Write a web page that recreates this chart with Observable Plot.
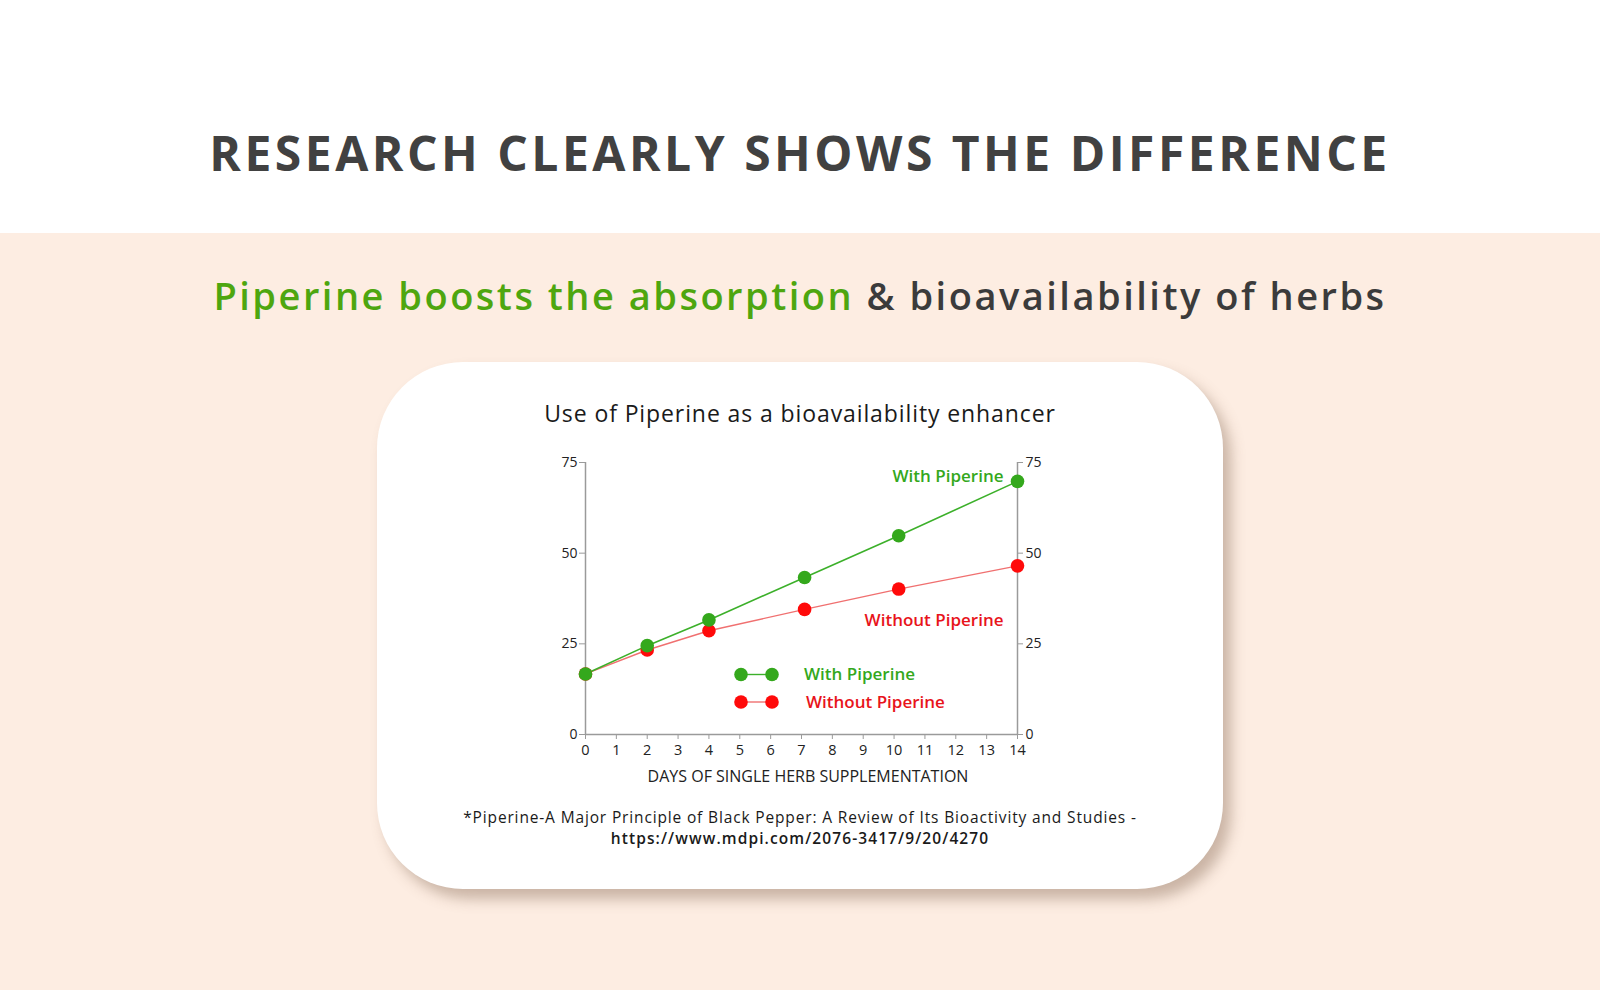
<!DOCTYPE html>
<html>
<head>
<meta charset="utf-8">
<script src="https://cdn.jsdelivr.net/npm/d3@7"></script>
<script src="https://cdn.jsdelivr.net/npm/@observablehq/plot@0.6"></script>
<style>
html,body{margin:0;padding:0;}
body{width:1600px;height:990px;background:#fdede2;position:relative;overflow:hidden;font-family:"Open Sans",sans-serif;}
#band{position:absolute;left:0;top:0;width:1600px;height:233px;background:#ffffff;}
#title{position:absolute;left:0;top:129px;width:1600px;text-align:center;font-size:48px;line-height:48px;font-weight:700;letter-spacing:3.5px;color:#414141;white-space:nowrap;}
#subtitle{position:absolute;left:0;top:276px;width:1600px;text-align:center;font-size:38px;line-height:38px;font-weight:600;letter-spacing:2.5px;color:#3b3b3b;white-space:nowrap;}
#subtitle .g{color:#4ea60f;}
#card{position:absolute;left:377px;top:362px;width:846px;height:527px;border-radius:86px;background:#fff;box-shadow:8px 10px 14px rgba(140,110,90,0.45);}
#ctitle{position:absolute;left:377px;width:846px;top:402px;text-align:center;font-size:23px;line-height:22px;letter-spacing:0.9px;color:#1a1a1a;white-space:nowrap;}
#plot{position:absolute;left:520px;top:440px;}
#xlabel{position:absolute;left:528px;width:560px;top:768px;text-align:center;font-size:16px;line-height:16px;color:#222;letter-spacing:0px;white-space:nowrap;}
#legend{position:absolute;left:720px;top:655px;}
.foot{position:absolute;left:377px;width:846px;text-align:center;font-size:15.5px;line-height:20px;letter-spacing:0.85px;color:#1a1a1a;white-space:nowrap;}
#foot1{top:807px;}
#foot2{top:828px;font-weight:600;letter-spacing:1.1px;}
</style>
</head>
<body>
<div id="band"></div>
<div id="title">RESEARCH CLEARLY SHOWS THE DIFFERENCE</div>
<div id="subtitle"><span class="g">Piperine boosts the absorption</span> &amp; bioavailability of herbs</div>
<div id="card"></div>
<div id="ctitle">Use of Piperine as a bioavailability enhancer</div>
<div id="plot"></div>
<div id="xlabel">DAYS OF SINGLE HERB SUPPLEMENTATION</div>
<div id="legend"></div>
<div class="foot" id="foot1">*Piperine-A Major Principle of Black Pepper: A Review of Its Bioactivity and Studies -</div>
<div class="foot" id="foot2">https://www.mdpi.com/2076-3417/9/20/4270</div>
<script>
// ---- data ----
const days = [0, 2, 4, 7.1, 10.15, 14];
const withPiperine = [16.7, 24.5, 31.6, 43.3, 54.8, 69.8];
const withoutPiperine = [16.7, 23.3, 28.6, 34.5, 40.1, 46.5];
const seriesNames = ["With Piperine", "Without Piperine"];
const xTicks = [0,1,2,3,4,5,6,7,8,9,10,11,12,13,14];
const yTicks = [0, 25, 50, 75];

const GREEN = "#34a81c", GREEN_LINE = "#3cb02a";
const RED = "#ff0a0a", RED_LINE = "#f07070";
const AXIS = "#9a9a9a";

const withData = days.map((d, i) => ({day: d, value: withPiperine[i], series: seriesNames[0]}));
const withoutData = days.map((d, i) => ({day: d, value: withoutPiperine[i], series: seriesNames[1]}));

const font = "'Open Sans', sans-serif";
const chart = Plot.plot({
  width: 560, height: 330,
  marginLeft: 65, marginRight: 63, marginTop: 22, marginBottom: 36,
  x: {domain: [0, 14]},
  y: {domain: [0, 75]},
  style: {fontFamily: font, fontSize: "14px", color: "#222", background: "transparent", overflow: "visible"},
  marks: [
    Plot.axisX({ticks: xTicks, tickSize: 5, tickPadding: 5, label: null, stroke: AXIS, fill: "#222", fontSize: 14.5}),
    Plot.axisY({anchor: "left", ticks: yTicks, tickSize: 6, tickPadding: 2, label: null, stroke: AXIS, fill: "#222", fontSize: 14}),
    Plot.axisY({anchor: "right", ticks: yTicks, tickSize: 5, tickPadding: 3, label: null, stroke: AXIS, fill: "#222", fontSize: 14}),
    Plot.ruleY([0], {stroke: AXIS, strokeWidth: 1.5}),
    Plot.ruleX([0], {stroke: AXIS, strokeWidth: 1.5}),
    Plot.ruleX([14], {stroke: AXIS, strokeWidth: 1.5}),
    Plot.line(withoutData, {x: "day", y: "value", stroke: RED_LINE, strokeWidth: 1.4}),
    Plot.line(withData, {x: "day", y: "value", stroke: GREEN_LINE, strokeWidth: 1.6}),
    Plot.dot(withoutData, {x: "day", y: "value", r: 6.8, fill: RED}),
    Plot.dot(withData, {x: "day", y: "value", r: 6.8, fill: GREEN}),
    Plot.text(withData, Plot.selectLast({x: "day", y: "value", text: "series", fill: GREEN, textAnchor: "end", dx: -14, dy: -5, fontSize: 17, fontWeight: 600})),
    Plot.text(withoutData, Plot.selectLast({x: "day", y: "value", text: "series", fill: "#e8141b", textAnchor: "end", dx: -14, dy: 54.5, fontSize: 17, fontWeight: 600}))
  ]
});
document.getElementById("plot").appendChild(chart);

// ---- legend ----
const legendColors = [[GREEN, GREEN_LINE, GREEN], [RED, RED_LINE, "#e8141b"]];
const lg = d3.select("#legend").append("svg").attr("width", 240).attr("height", 62)
  .style("font-family", font);
seriesNames.forEach((name, i) => {
  const cy = i === 0 ? 19.5 : 47;
  const g = lg.append("g");
  g.append("line").attr("x1", 21).attr("x2", 52).attr("y1", cy).attr("y2", cy)
    .attr("stroke", legendColors[i][1]).attr("stroke-width", 1.4);
  g.append("circle").attr("cx", 21).attr("cy", cy).attr("r", 6.8).attr("fill", legendColors[i][0]);
  g.append("circle").attr("cx", 52).attr("cy", cy).attr("r", 6.8).attr("fill", legendColors[i][0]);
  g.append("text").attr("x", i === 0 ? 84 : 86).attr("y", cy).attr("dy", "0.35em")
    .attr("fill", legendColors[i][2]).attr("font-size", 17).attr("font-weight", 600).text(name);
});
</script>
</body>
</html>
